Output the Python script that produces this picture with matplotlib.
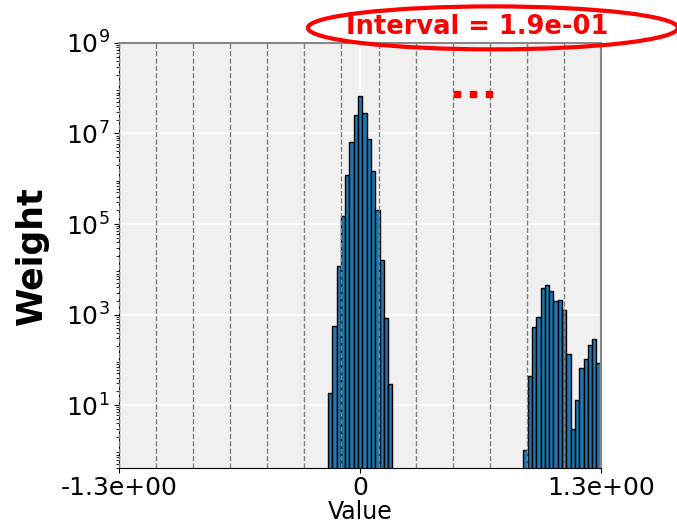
import numpy as np
import matplotlib
matplotlib.use("Agg")
from matplotlib import pyplot as plt
from matplotlib.patches import Ellipse
from matplotlib.ticker import LogLocator, FixedLocator

# value range and histogram bins
x_min, x_max = -1.26, 1.26
n_intervals = 13
bin_width = 0.0225

# main cluster around zero
main_start = -0.1675
main_counts = [18, 570, 1.2e4, 1.5e5, 1.2e6, 6.5e6, 2.5e7, 6.6e7,
               2.9e7, 7.7e6, 1.5e6, 2.0e5, 1.6e4, 830, 29]

# small cluster near the upper end
tail_start = 0.855
tail_counts = [1.0, 43, 535, 890, 3900, 4600, 3300, 2000, 2100, 1250,
               135, 2.9, 13, 66, 104, 212, 293, 85]

x_ticks = [x_min, 0, x_max]
x_tick_labels = ["-1.3e+00", "0", "1.3e+00"]
y_ticks = [1e1, 1e3, 1e5, 1e7, 1e9]

interval = (x_max - x_min) / n_intervals

fig = plt.figure(figsize=(6.77, 5.26), dpi=100)
ax = fig.add_axes([0.1762, 0.1097, 0.7111, 0.8086])
ax.set_facecolor("#f0f0f0")

main_edges = main_start + bin_width * np.arange(len(main_counts))
tail_edges = tail_start + bin_width * np.arange(len(tail_counts))
ax.bar(main_edges, main_counts, width=bin_width, align="edge",
       color="#1f77b4", edgecolor="black", linewidth=1, zorder=2)
ax.bar(tail_edges, tail_counts, width=bin_width, align="edge",
       color="#1f77b4", edgecolor="black", linewidth=1, zorder=2)

for k in range(n_intervals + 1):
    ax.axvline(x_min + k * interval, color="grey", linestyle="--",
               linewidth=1, zorder=3)

ax.set_yscale("log")
ax.set_xlim(x_min, x_max)
ax.set_ylim(0.4, 1e9)
ax.yaxis.set_major_locator(FixedLocator(y_ticks))
ax.yaxis.set_minor_locator(LogLocator(base=10, subs=np.arange(2, 10), numticks=50))
ax.set_xticks(x_ticks)
ax.set_xticklabels(x_tick_labels)
ax.tick_params(axis="both", labelsize=18)
ax.tick_params(axis="x", pad=2)
ax.grid(True, which="major", color="white", linewidth=1.2, zorder=0)
ax.set_axisbelow(True)

for side in ["top", "right"]:
    ax.spines[side].set_color("#888888")
    ax.spines[side].set_linewidth(1.5)

ax.set_xlabel("Value", fontsize=17, labelpad=0)
ax.set_ylabel("Weight", fontsize=25, fontweight="bold", labelpad=12)

# skipped region marker
ax.plot([0.7025, 0.7355, 0.769], [0.88, 0.88, 0.88], "s", color="red",
        markersize=4.5, transform=ax.transAxes, clip_on=False, zorder=4)

fig.text(0.705, 0.949, f"Interval = {interval:.1e}", color="red",
         fontsize=18.5, fontweight="bold", ha="center", va="center")
fig.patches.append(Ellipse((0.728, 0.947), 0.5465, 0.0817, fill=False,
                           edgecolor="red", linewidth=3,
                           transform=fig.transFigure, figure=fig))

fig.savefig("out.png", dpi=100)
